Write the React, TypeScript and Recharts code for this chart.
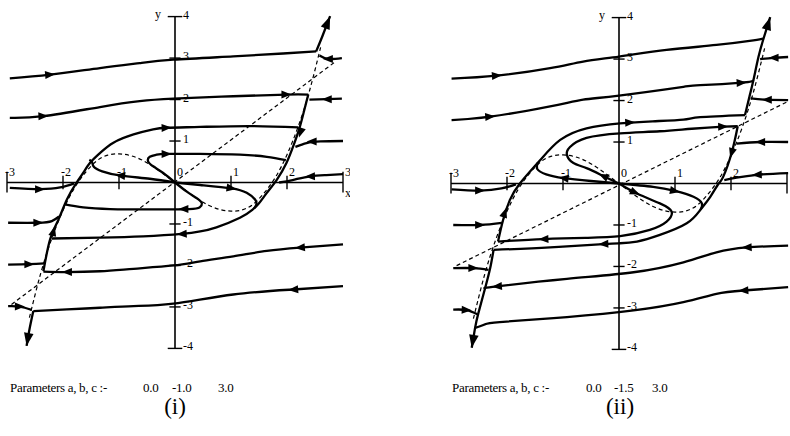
import { ComposedChart, Line, Scatter, XAxis, YAxis, ReferenceLine } from "recharts";

type Pt = [number, number];

const W = 350;
const H = 365;
const XD: [number, number] = [-3.125, 3.125];
const YD: [number, number] = [-4.4, 4.4];
const SX = W / (XD[1] - XD[0]);
const SY = H / (YD[1] - YD[0]);
const FONT = "'Liberation Serif', 'DejaVu Serif', serif";

const xTicks = [-3, -2, -1, 1, 2, 3];
const yTicks = [-4, -3, -2, -1, 1, 2, 3, 4];
const xTickLabels = ["-3", "-2", "-1", "0", "1", "2", "3"];
const yTickLabels = ["4", "3", "2", "1", "-1", "-2", "-3", "-4"];

// dashed cubic nullcline, same in both panels (c = 3)
const cubicNull: Pt[] = [
  [-2.6, -3.26], [-2.4, -2.2], [-2.2, -1.35], [-2.0, -0.67], [-1.8, -0.14], [-1.6, 0.24],
  [-1.4, 0.52], [-1.2, 0.66], [-1.0, 0.69], [-0.8, 0.65], [-0.6, 0.55], [-0.4, 0.39],
  [-0.2, 0.2], [0, 0], [0.2, -0.2], [0.4, -0.39], [0.6, -0.55], [0.8, -0.65], [1.0, -0.69],
  [1.2, -0.66], [1.4, -0.52], [1.6, -0.24], [1.8, 0.14], [2.0, 0.67], [2.2, 1.35], [2.4, 2.2], [2.6, 3.26],
];

// ---------- panel (i): a, b, c = 0.0, -1.0, 3.0 ----------
const lineI: Pt[] = [[-2.92, -2.94], [2.85, 2.9]];

const iTop3: Pt[] = [[-2.95, 2.51], [-2.23, 2.6], [-1.34, 2.76], [-0.63, 2.88], [-0.03, 2.96], [1.04, 3.04], [1.93, 3.11], [2.52, 3.16]];
const iUpRight: Pt[] = [[2.52, 3.16], [2.63, 3.52], [2.77, 4.01]];
const iIn3: Pt[] = [[2.98, 3.0], [2.73, 2.98], [2.58, 3.06]];
const iTop2: Pt[] = [[-2.95, 1.56], [-2.35, 1.6], [-1.34, 1.82], [-0.63, 1.96], [-0.03, 2.02], [1.04, 2.08], [1.99, 2.12], [2.38, 2.12]];
const iIn2: Pt[] = [[2.98, 2.02], [2.71, 2.01], [2.4, 2.0]];
const iRightBranch: Pt[] = [
  [2.38, 2.12], [2.3, 1.7], [2.22, 1.3], [2.11, 0.87], [1.99, 0.47], [1.82, 0.07], [1.64, -0.25],
  [1.5, -0.5], [1.38, -0.66], [1.16, -0.85], [0.74, -1.08], [0.45, -1.18], [0.12, -1.24],
  [-0.57, -1.3], [-1.34, -1.33], [-2.2, -1.35],
];
const iLeftBranch: Pt[] = [
  [-2.35, -2.14], [-2.23, -1.37], [-2.08, -0.89], [-1.93, -0.41], [-1.76, -0.01], [-1.64, 0.23],
  [-1.52, 0.47], [-1.34, 0.71], [-1.1, 0.96], [-0.74, 1.16], [-0.39, 1.28], [-0.15, 1.32],
  [0.45, 1.34], [1.34, 1.36], [2.2, 1.33],
];
const iIn1: Pt[] = [[3.0, 1.0], [2.6, 0.99], [2.35, 0.95], [2.15, 0.86]];
const iIn0: Pt[] = [[3.0, 0.2], [2.7, 0.18], [2.41, 0.15], [2.1, 0.06], [1.86, 0.0]];
const iLoopUp: Pt[] = [[0, 0], [-0.21, 0.23], [-0.39, 0.39], [-0.48, 0.51], [-0.45, 0.62], [-0.33, 0.67], [-0.15, 0.69], [0.45, 0.69], [1.16, 0.67], [1.64, 0.62], [1.98, 0.54]];
const iLoopDown: Pt[] = [[0, 0], [0.21, -0.22], [0.39, -0.38], [0.48, -0.5], [0.44, -0.6], [0.25, -0.64], [-0.45, -0.65], [-1.16, -0.64], [-1.64, -0.6], [-1.97, -0.53]];
const iOutLeft: Pt[] = [[0, 0], [-0.45, 0.09], [-0.98, 0.17], [-1.3, 0.27], [-1.45, 0.38], [-1.48, 0.49], [-1.53, 0.55]];
const iOutRight: Pt[] = [[0, 0], [0.45, -0.06], [1.01, -0.14], [1.28, -0.25], [1.43, -0.41], [1.45, -0.54], [1.41, -0.63]];
const iBot2: Pt[] = [[3.0, -1.49], [2.23, -1.57], [1.64, -1.65], [1.04, -1.78], [0.45, -1.9], [-0.03, -2.0], [-0.74, -2.08], [-1.34, -2.14], [-1.93, -2.16], [-2.35, -2.15]];
const iBot3: Pt[] = [[3.0, -2.5], [2.11, -2.58], [1.04, -2.7], [-0.03, -2.92], [-0.74, -2.98], [-1.34, -3.02], [-1.93, -3.06], [-2.53, -3.1]];
const iDownLeft: Pt[] = [[-2.53, -3.1], [-2.6, -3.55], [-2.65, -3.94]];
const iInAxis: Pt[] = [[-2.95, -0.13], [-2.41, -0.16], [-2.05, -0.12], [-1.8, -0.02]];
const iInM1: Pt[] = [[-2.98, -0.97], [-2.44, -0.97], [-2.2, -0.93], [-2.07, -0.82]];
const iInM2: Pt[] = [[-2.98, -1.98], [-2.6, -1.97], [-2.33, -1.95]];
const iInM3: Pt[] = [[-2.98, -2.98], [-2.77, -2.99], [-2.56, -3.07]];

// arrows: x, y, direction dx, dy (data units)
const arrowsI: number[][] = [
  [-2.23, 2.6, 1, 0.12], [-2.35, 1.6, 1, 0.06], [1.99, 2.12, 1, 0],
  [2.73, 2.98, -1, 0], [2.71, 2.01, -1, 0], [2.44, 0.99, -1, 0], [2.41, 0.15, -1, -0.03],
  [2.24, 1.2, -0.19, -0.83], [-0.15, 1.32, 1, 0.04], [-0.15, 0.69, 1, 0],
  [-0.98, 0.17, -1, 0.15], [1.01, -0.14, 1, -0.2], [0.15, -0.64, -1, 0], [0.12, -1.24, -1, -0.08],
  [-2.17, -1.17, 0.15, 0.8], [2.23, -1.57, -1, -0.12], [-1.93, -2.16, -1, 0], [2.11, -2.58, -1, -0.1],
  [-2.41, -0.16, 1, 0], [-2.44, -0.97, 1, 0], [-2.6, -1.97, 1, 0], [-2.77, -2.99, 1, 0],
];
const tipsI: number[][] = [[2.77, 4.01, 0.15, 0.5], [-2.65, -3.94, -0.05, -0.4]];

const solidI: Pt[][] = [
  iTop3, iUpRight, iIn3, iTop2, iIn2, iRightBranch, iLeftBranch, iIn1, iIn0, iLoopUp, iLoopDown,
  iOutLeft, iOutRight, iBot2, iBot3, iDownLeft, iInAxis, iInM1, iInM2, iInM3,
];

// ---------- panel (ii): a, b, c = 0.0, -1.5, 3.0 ----------
const lineII: Pt[] = [[-2.9, -1.98], [3.02, 1.98]];

const iiTop3: Pt[] = [[-2.99, 2.53], [-2.18, 2.6], [-1.23, 2.78], [-0.64, 2.94], [0, 3.06], [0.85, 3.22], [1.74, 3.34], [2.4, 3.45], [2.58, 3.49]];
const iiUpRight: Pt[] = [[2.25, 1.65], [2.33, 2.1], [2.4, 2.49], [2.49, 3.05], [2.58, 3.49], [2.7, 4.01]];
const iiIn3: Pt[] = [[3.02, 3.05], [2.76, 3.03], [2.52, 3.0]];
const iiTop2: Pt[] = [[-2.99, 1.53], [-2.3, 1.61], [-1.23, 1.86], [-0.64, 2.02], [0, 2.12], [1.15, 2.33], [1.45, 2.37], [2.19, 2.43], [2.4, 2.49]];
const iiIn2: Pt[] = [[3.02, 2.01], [2.64, 2.02], [2.35, 2.05]];
const iiOuter: Pt[] = [
  [-2.16, -1.4], [-2.07, -0.88], [-1.95, -0.4], [-1.77, 0.0], [-1.41, 0.56], [-1.05, 1.05],
  [-0.58, 1.33], [0.02, 1.45], [0.6, 1.5], [1.15, 1.54], [1.45, 1.6], [2.25, 1.65],
];
const iiInner: Pt[] = [
  [0, 0], [-0.28, 0.18], [-0.58, 0.37], [-0.82, 0.5], [-0.93, 0.69], [-0.875, 0.88], [-0.58, 1.1],
  [0.02, 1.21], [0.73, 1.26], [1.3, 1.32], [1.86, 1.37], [2.12, 1.38],
];
const iiRightBranch: Pt[] = [
  [2.12, 1.38], [2.01, 0.73], [1.86, 0.16], [1.78, 0.0], [1.63, -0.32], [1.45, -0.64], [1.21, -0.96],
  [0.73, -1.24], [0.32, -1.4], [0.02, -1.44], [-0.28, -1.46], [-1.23, -1.54], [-2.24, -1.6],
];
const iiDownLeft: Pt[] = [[-2.24, -1.6], [-2.3, -2.04], [-2.39, -2.52], [-2.51, -3.12], [-2.57, -3.48], [-2.63, -3.96]];
const iiOutLeft: Pt[] = [[0, 0], [-0.5, 0.06], [-0.99, 0.13], [-1.3, 0.22], [-1.46, 0.35], [-1.45, 0.5]];
const iiOutRight: Pt[] = [[0, 0], [0.61, -0.08], [1.0, -0.18], [1.33, -0.32], [1.48, -0.48], [1.46, -0.62]];
const iiLoopDown: Pt[] = [
  [0, 0], [0.32, -0.24], [0.73, -0.48], [0.94, -0.68], [0.85, -0.92], [0.55, -1.12], [0.02, -1.27],
  [-0.6, -1.31], [-1.35, -1.34], [-2.16, -1.4],
];
const iiIn1: Pt[] = [[3.02, 1.0], [2.52, 1.0], [2.1, 0.96]];
const iiIn0: Pt[] = [[3.02, 0.25], [2.46, 0.21], [2.1, 0.14], [1.88, 0.08]];
const iiInAxis: Pt[] = [[-2.99, -0.14], [-2.48, -0.17], [-2.1, -0.12], [-1.84, -0.02]];
const iiInM1: Pt[] = [[-2.96, -1.0], [-2.48, -1.0], [-2.09, -0.95]];
const iiInM2: Pt[] = [[-2.96, -2.04], [-2.6, -2.04], [-2.33, -2.08]];
const iiInM3: Pt[] = [[-2.96, -3.04], [-2.72, -3.05], [-2.53, -3.15]];
const iiBot2: Pt[] = [[3.02, -1.5], [2.28, -1.54], [1.74, -1.66], [1.15, -1.9], [0.26, -2.14], [-0.93, -2.3], [-2.18, -2.48], [-2.39, -2.52]];
const iiBot3: Pt[] = [[3.02, -2.5], [2.22, -2.58], [1.74, -2.66], [1.15, -2.86], [0.26, -3.06], [-0.93, -3.22], [-2.13, -3.34], [-2.4, -3.4], [-2.57, -3.48]];

const arrowsII: number[][] = [
  [-2.18, 2.6, 1, 0.1], [-2.3, 1.61, 1, 0.1], [2.19, 2.43, 1, 0.06],
  [2.76, 3.03, -1, 0], [2.64, 2.02, -1, 0], [2.52, 1.0, -1, 0], [2.46, 0.21, -1, -0.05],
  [0.2, 1.47, 1, 0.06], [1.86, 1.37, 1, 0.03], [2.01, 0.73, -0.13, -0.6], [-2.04, -0.7, 0.12, 0.48],
  [-0.28, 0.18, -0.3, 0.19], [0.29, -0.22, 0.41, -0.24], [-0.99, 0.13, -1, 0.15], [1.0, -0.18, 1, -0.25],
  [-1.35, -1.34, -1, -0.05], [-0.28, -1.46, -1, -0.05], [2.28, -1.54, -1, -0.06], [-2.18, -2.48, -1, -0.1],
  [2.22, -2.58, -1, -0.08], [-2.48, -0.17, 1, 0], [-2.48, -1.0, 1, 0], [-2.6, -2.04, 1, 0], [-2.72, -3.05, 1, -0.05],
];
const tipsII: number[][] = [[2.7, 4.01, 0.12, 0.52], [-2.63, -3.96, -0.06, -0.48]];

const solidII: Pt[][] = [
  iiTop3, iiUpRight, iiIn3, iiTop2, iiIn2, iiOuter, iiInner, iiRightBranch, iiDownLeft, iiOutLeft,
  iiOutRight, iiLoopDown, iiIn1, iiIn0, iiInAxis, iiInM1, iiInM2, iiInM3, iiBot2, iiBot3,
];

const toPts = (p: Pt[]) => p.map(([x, y]) => ({ x, y }));

function ArrowHead(props: any) {
  const { cx, cy, payload } = props;
  if (cx == null || cy == null) return <g />;
  const a = Math.atan2(-payload.dy * SY, payload.dx * SX);
  const c = Math.cos(a);
  const s = Math.sin(a);
  const len = payload.tip ? 13 : 10;
  const half = payload.tip ? 4.8 : 4;
  const tx = payload.tip ? cx : cx + (c * len) / 2;
  const ty = payload.tip ? cy : cy + (s * len) / 2;
  const bx = tx - c * len;
  const by = ty - s * len;
  return (
    <polygon
      points={`${tx},${ty} ${bx - s * half},${by + c * half} ${bx + s * half},${by - c * half}`}
      fill="#000"
    />
  );
}

function TickText(props: any) {
  const { cx, cy, payload } = props;
  if (cx == null || cy == null) return <g />;
  let x = cx;
  let y = cy;
  if (payload.kind === "x") {
    x = cx + (payload.x < 0 ? -2 : 2);
    y = cy - 7;
  } else if (payload.kind === "y") {
    x = cx + 8;
    y = cy + 2;
  } else if (payload.kind === "ylab") {
    x = cx - 20;
    y = cy + 1;
  } else if (payload.kind === "xlab") {
    x = cx + 2;
    y = cy + 14;
  }
  return (
    <text x={x} y={y} fontSize={12} fontFamily={FONT} style={{ fill: "#000" }}>
      {payload.t}
    </text>
  );
}

// the right panel is cut at the page edge, so its "3" and "x" are not shown
const makeLabels = (full: boolean) => [
  ...xTickLabels.filter((t) => full || t !== "3").map((t) => ({ x: Number(t), y: 0, t, kind: "x" })),
  ...yTickLabels.map((t) => ({ x: 0, y: Number(t), t, kind: "y" })),
  { x: 0, y: 4, t: "y", kind: "ylab" },
  ...(full ? [{ x: 3, y: 0, t: "x", kind: "xlab" }] : []),
];

function Panel({ solid, straight, arrows, tips, full }: { solid: Pt[][]; straight: Pt[]; arrows: number[][]; tips: number[][]; full: boolean }) {
  const arrowData = [
    ...arrows.map(([x, y, dx, dy]) => ({ x, y, dx, dy, tip: false })),
    ...tips.map(([x, y, dx, dy]) => ({ x, y, dx, dy, tip: true })),
  ];
  return (
    <ComposedChart width={W} height={H} margin={{ top: 0, right: 0, bottom: 0, left: 0 }}>
      <XAxis type="number" dataKey="x" domain={XD} hide allowDataOverflow />
      <YAxis type="number" dataKey="y" domain={YD} hide allowDataOverflow />
      <Line data={toPts(cubicNull)} dataKey="y" type="natural" stroke="#000" strokeWidth={1.2} strokeDasharray="4 3" dot={false} activeDot={false} isAnimationActive={false} />
      <Line data={toPts(straight)} dataKey="y" type="linear" stroke="#000" strokeWidth={1.2} strokeDasharray="4 3" dot={false} activeDot={false} isAnimationActive={false} />
      <ReferenceLine segment={[{ x: -3, y: 0 }, { x: 3, y: 0 }]} stroke="#000" strokeWidth={1.6} />
      <ReferenceLine segment={[{ x: 0, y: -4 }, { x: 0, y: 4 }]} stroke="#000" strokeWidth={1.6} />
      {xTicks.map((t) => (
        <ReferenceLine
          key={"xt" + t}
          segment={[{ x: t, y: Math.abs(t) === 3 ? -0.24 : -0.16 }, { x: t, y: Math.abs(t) === 3 ? 0.26 : 0.16 }]}
          stroke="#000"
          strokeWidth={1.4}
        />
      ))}
      {yTicks.map((t) => (
        <ReferenceLine
          key={"yt" + t}
          segment={[{ x: Math.abs(t) === 4 ? -0.13 : -0.1, y: t }, { x: Math.abs(t) === 4 ? 0.13 : 0.1, y: t }]}
          stroke="#000"
          strokeWidth={1.4}
        />
      ))}
      <Scatter data={makeLabels(full)} shape={TickText} isAnimationActive={false} />
      {solid.map((p, i) => (
        <Line key={i} data={toPts(p)} dataKey="y" type="natural" stroke="#000" strokeWidth={2.3} dot={false} activeDot={false} isAnimationActive={false} />
      ))}
      <Scatter data={arrowData} shape={ArrowHead} isAnimationActive={false} />
    </ComposedChart>
  );
}

const captionStyle = { position: "absolute" as const, fontFamily: FONT, fontSize: 13, lineHeight: "13px", whiteSpace: "pre" as const, letterSpacing: -0.3 };

export default function App() {
  return (
    <div style={{ position: "absolute", left: 0, top: 0, width: 790, height: 436, overflow: "hidden", background: "#fff" }}>
      <div style={{ position: "absolute", left: 0, top: 0 }}>
        <Panel solid={solidI} straight={lineI} arrows={arrowsI} tips={tipsI} full={true} />
      </div>
      <div style={{ position: "absolute", left: 444, top: 1 }}>
        <Panel solid={solidII} straight={lineII} arrows={arrowsII} tips={tipsII} full={false} />
      </div>

      <span style={{ ...captionStyle, left: 10, top: 381 }}>Parameters a, b, c :-</span>
      <span style={{ ...captionStyle, left: 143, top: 381 }}>0.0</span>
      <span style={{ ...captionStyle, left: 172, top: 381 }}>-1.0</span>
      <span style={{ ...captionStyle, left: 218, top: 381 }}>3.0</span>
      <span style={{ ...captionStyle, left: 452, top: 381 }}>Parameters a, b, c :-</span>
      <span style={{ ...captionStyle, left: 586, top: 381 }}>0.0</span>
      <span style={{ ...captionStyle, left: 614, top: 381 }}>-1.5</span>
      <span style={{ ...captionStyle, left: 652, top: 381 }}>3.0</span>

      <div style={{ position: "absolute", left: 135, top: 395, width: 80, textAlign: "center", fontFamily: FONT, fontSize: 23, lineHeight: "23px" }}>(i)</div>
      <div style={{ position: "absolute", left: 580, top: 395, width: 80, textAlign: "center", fontFamily: FONT, fontSize: 23, lineHeight: "23px" }}>(ii)</div>
    </div>
  );
}
